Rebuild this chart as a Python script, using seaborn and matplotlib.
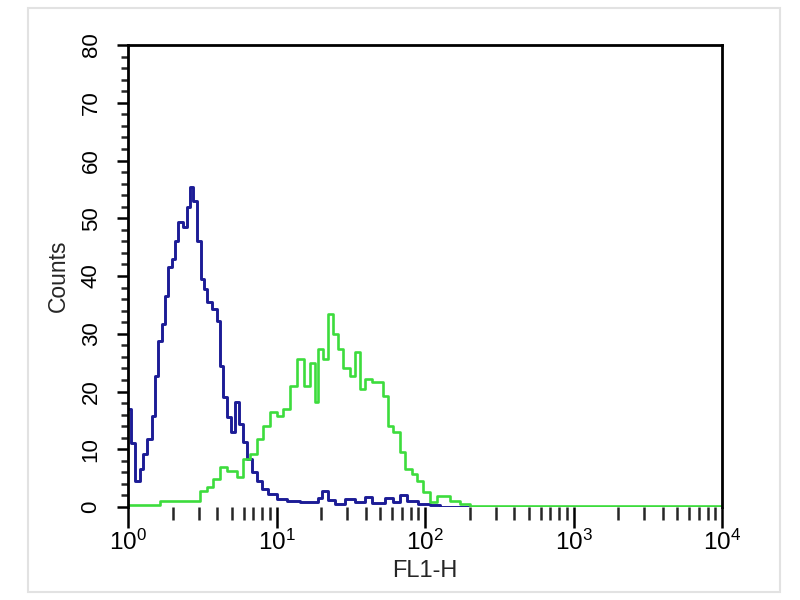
import numpy as np
import pandas as pd
import matplotlib
matplotlib.use("Agg")
import matplotlib.pyplot as plt
import matplotlib.ticker as mticker
from matplotlib.patches import Rectangle
import seaborn as sns

# Data: channel numbers (1024 channels over 4 log decades) and counts
blue_channel = [0, 5, 12, 21, 26, 33, 41, 47, 52, 59, 64, 69, 76, 81, 86, 95, 102, 107, 112, 119,
                126, 131, 136, 145, 153, 159, 164, 171, 178, 184, 191, 198, 205, 214, 222, 231, 241,
                257, 274, 297, 328, 334, 345, 357, 374, 391, 409, 421, 443, 457, 469, 481, 500, 521,
                538, 1023]
blue_counts = [17, 11, 4.5, 6.6, 9.2, 11.8, 15.8, 22.7, 28.7, 31.7, 36.5, 41.5, 43, 46, 49.3, 48.5,
               52, 55.4, 53, 46, 39.5, 37.7, 35.5, 34.3, 32.2, 24.4, 19, 15.6, 13, 18.2, 14.4, 11.3,
               8.3, 6, 4.5, 3.1, 2.2, 1.4, 1.0, 0.8, 1.6, 2.8, 1.2, 0.6, 1.4, 0.9, 1.8, 0.7, 1.5,
               0.8, 2.0, 1.0, 0.6, 0.3, 0, 0]

green_channel = [0, 55, 124, 136, 147, 159, 171, 188, 198, 210, 222, 233, 245, 257, 267, 279, 291,
                 303, 314, 322, 328, 336, 345, 353, 362, 371, 383, 391, 400, 409, 421, 440, 448, 457,
                 469, 478, 490, 498, 509, 521, 533, 555, 572, 590, 1023]
green_counts = [0.4, 1.0, 2.8, 3.5, 4.8, 7.0, 6.3, 5.2, 8.3, 9.2, 11.8, 14, 16.4, 15.8, 17, 21, 25.6,
                21, 25, 18.2, 27.4, 25.6, 33.5, 30, 27.4, 24, 22.7, 26.8, 20.4, 22.2, 21.6, 19.2, 14,
                13, 9.5, 6.6, 5.7, 4.5, 2.6, 0.9, 1.9, 1.0, 0.5, 0.2, 0.2]

x_label = "FL1-H"
y_label = "Counts"

sns.set_style("white")
plt.rcParams['font.family'] = ['Liberation Sans', 'DejaVu Sans']
plt.rcParams['mathtext.fontset'] = 'custom'
plt.rcParams['mathtext.rm'] = 'Liberation Sans'
plt.rcParams['mathtext.default'] = 'regular'

df = pd.concat([
    pd.DataFrame({"sample": "control", "FL1-H": 10 ** (np.array(blue_channel) / 256.0),
                  "Counts": blue_counts}),
    pd.DataFrame({"sample": "stained", "FL1-H": 10 ** (np.array(green_channel) / 256.0),
                  "Counts": green_counts}),
], ignore_index=True)

fig = plt.figure(figsize=(8, 6), dpi=100)
fig.patches.append(Rectangle((28 / 800, 8 / 600), 752 / 800, 584 / 600, transform=fig.transFigure,
                             fill=False, edgecolor="#e2e2e2", linewidth=1.5))
ax = fig.add_axes([128 / 800, 1 - 507 / 600, (722 - 128) / 800, (507 - 45) / 600])

sns.lineplot(data=df, x="FL1-H", y="Counts", hue="sample",
             palette={"control": "#1c1c96", "stained": "#3ddc3d"},
             estimator=None, sort=False, drawstyle="steps-post", legend=False, ax=ax)
lines = ax.get_lines()
if len(lines) >= 2:
    lines[0].set_linewidth(2.1)
    lines[1].set_linewidth(1.9)

ax.set_xscale("log")
ax.set_xlim(1, 1e4)
ax.set_ylim(0, 80)

ax.xaxis.set_major_locator(mticker.LogLocator(base=10, numticks=10))
ax.xaxis.set_minor_locator(mticker.LogLocator(base=10, subs=np.arange(2, 10), numticks=20))
ax.xaxis.set_minor_formatter(mticker.NullFormatter())
ax.xaxis.set_major_formatter(mticker.LogFormatterSciNotation())
ax.yaxis.set_major_locator(mticker.MultipleLocator(10))
ax.yaxis.set_minor_locator(mticker.MultipleLocator(2))

for s in ["top", "right", "left"]:
    ax.spines[s].set_visible(True)
    ax.spines[s].set_color("black")
    ax.spines[s].set_linewidth(2.0)
ax.spines["bottom"].set_visible(False)

ax.tick_params(axis="y", which="major", direction="out", length=8, width=1.8, left=True,
               labelsize=16, pad=11, colors="black")
ax.tick_params(axis="y", which="minor", direction="out", length=5, width=1.8, left=True)
ax.tick_params(axis="x", which="major", direction="out", length=15, width=1.8, bottom=True,
               labelsize=17.5, pad=1, colors="black")
ax.tick_params(axis="x", which="minor", direction="out", length=9, width=1.8, bottom=True)
for lab in ax.get_yticklabels():
    lab.set_rotation(90)
    lab.set_va("center")

ax.set_xlabel(x_label, fontsize=17, labelpad=4)
ax.set_ylabel(y_label, fontsize=16.5, labelpad=8)

fig.savefig("out.png", dpi=100, facecolor="white")
